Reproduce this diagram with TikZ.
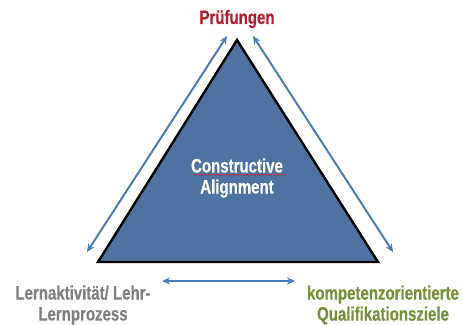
\documentclass[tikz,border=0pt]{standalone}
\usepackage{fontspec}
\setmainfont[FakeStretch=0.77,FakeBold=0.4]{Liberation Sans}
\usetikzlibrary{arrows.meta,decorations.pathmorphing}

\definecolor{triblue}{RGB}{79,115,160}
\definecolor{arrowblue}{RGB}{74,124,184}
\definecolor{pruefred}{RGB}{178,30,45}
\definecolor{lerngray}{RGB}{127,127,127}
\definecolor{zielgreen}{RGB}{118,146,60}

\tikzset{
  dblarrow/.style={arrowblue, line width=2pt, {Stealth[length=8pt,width=7pt]}-{Stealth[length=8pt,width=7pt]}},
  lbl/.style={font=\bfseries\fontsize{19.5}{21}\selectfont, align=center}
}

\begin{document}
\begin{tikzpicture}[x=1pt,y=-1pt]
\useasboundingbox (0,0) rectangle (463,324);

% triangle
\coordinate (top) at (237,40);
\coordinate (left) at (98,262);
\coordinate (right) at (378,262);
\draw[line width=2.4pt, fill=triblue, line join=miter] (top)--(left)--(right)--cycle;

\node[white, lbl] (ca) at (237,178) {Constructive\\Alignment};
\draw[red!75!triblue, line width=0.4pt, decoration={snake, amplitude=0.5pt, segment length=2pt}, decorate] (194,175)--(286,175);

% labels
\node[pruefred, lbl] (pruef) at (237,19) {Prüfungen};
\node[lerngray, lbl] (lern) at (83,305) {Lernaktivität/ Lehr-\\Lernprozess};
\node[zielgreen, lbl] (ziel) at (383,305) {kompetenzorientierte\\Qualifikationsziele};

% arrows
\coordinate (a1) at (87,252);
\coordinate (a2) at (227,36);
\coordinate (b1) at (253,36);
\coordinate (b2) at (393,252);
\coordinate (c1) at (162,281);
\coordinate (c2) at (295,281);
\draw[dblarrow] (a1)--(a2);
\draw[dblarrow] (b1)--(b2);
\draw[dblarrow] (c1)--(c2);
\end{tikzpicture}
\end{document}
